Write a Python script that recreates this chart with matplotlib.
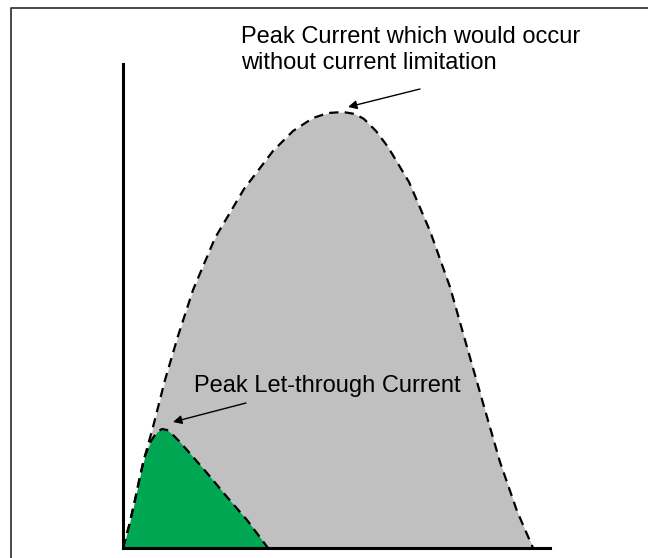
import numpy as np
import matplotlib
matplotlib.use('Agg')
import matplotlib.pyplot as plt
from matplotlib.lines import Line2D

plt.rcParams['font.family'] = ['Liberation Sans', 'DejaVu Sans']

# prospective fault current (no limitation)
t_full = [0, 6, 12, 20, 30, 42, 55, 70, 92, 121, 150, 170, 190, 205, 220,
          232, 241, 253, 265, 286, 307, 327, 344, 360, 377, 394, 410]
i_full = [0, 22, 48, 85, 121, 168, 212, 258, 310, 359, 397, 417, 430, 435, 436,
          434, 429, 417, 401, 366, 317, 261, 201, 145, 86, 37, 0]

# let-through current
t_let = [0, 6, 12, 17, 22, 28, 34, 39, 44, 49, 56, 64, 84, 104, 124, 145]
i_let = [0, 22, 48, 72, 92, 107, 116, 119, 118, 114, 107, 98, 75, 51, 28, 0]

label_full = ["Peak Current which would occur", "without current limitation"]
label_let = "Peak Let-through Current"

W, H = 648, 558
fig = plt.figure(figsize=(W / 100, H / 100), dpi=100)
ax = fig.add_axes([123 / W, 10 / H, 427 / W, 484 / H])

ax.fill_between(t_full, i_full, color='#c0c0c0', lw=0)
ax.fill_between(t_let, i_let, color='#00a651', lw=0)
dash = (0, (4.2, 2.8))
ax.plot(t_full, i_full, color='black', lw=1.6, linestyle=dash)
ax.plot(t_let, i_let, color='black', lw=1.6, linestyle=dash)

ax.set_xlim(0, 427)
ax.set_ylim(0, 484)
ax.set_xticks([])
ax.set_yticks([])
for s in ['top', 'right']:
    ax.spines[s].set_visible(False)
for s in ['left', 'bottom']:
    ax.spines[s].set_linewidth(2.2)
    ax.spines[s].set_capstyle('projecting')

ax.text(118, 505, label_full[0], fontsize=17, va='baseline', clip_on=False)
ax.text(118, 479, label_full[1], fontsize=17, va='baseline', clip_on=False)
ax.text(71, 156, label_let, fontsize=17, va='baseline', clip_on=False)

arrow = dict(arrowstyle='-|>', color='black', lw=1.0, mutation_scale=13,
             shrinkA=0, shrinkB=0)
ax.annotate('', xy=(225, 441), xytext=(297, 459), arrowprops=arrow,
            annotation_clip=False)
ax.annotate('', xy=(50, 126), xytext=(123, 145), arrowprops=arrow,
            annotation_clip=False)

# frame of the original drawing (only left/top edge visible)
fig.add_artist(Line2D([11 / W, 11 / W, 1], [0, 1 - 8 / H, 1 - 8 / H],
                      transform=fig.transFigure, color='#3a3a3a', lw=1.3))

fig.savefig('out.png', dpi=100)
